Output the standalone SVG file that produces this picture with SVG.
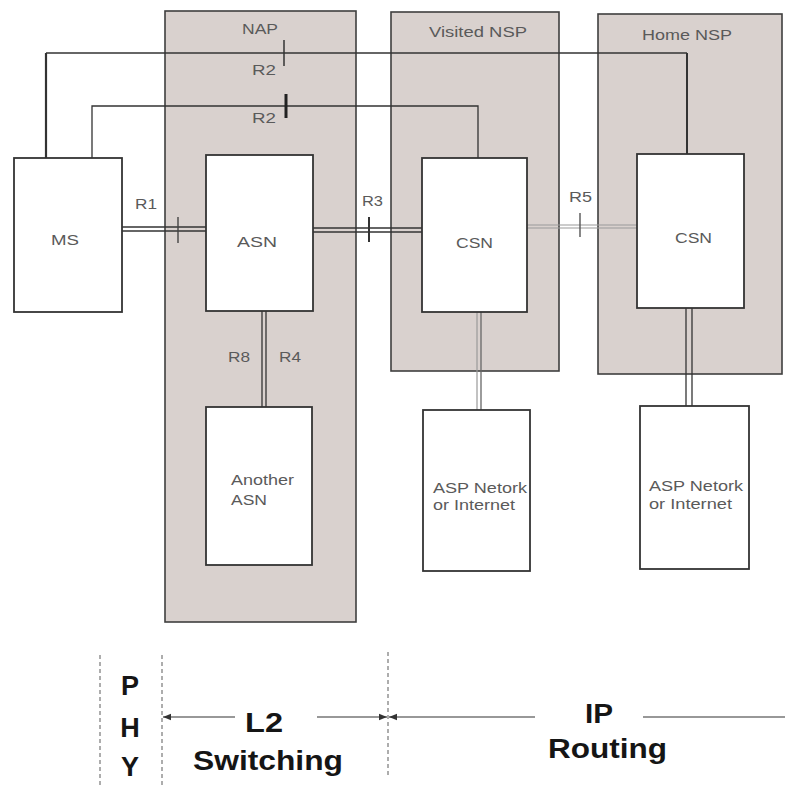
<svg xmlns="http://www.w3.org/2000/svg" width="785" height="788" viewBox="0 0 785 788">
<defs>
<style>
.cont{fill:#d9d1ce;stroke:#3f3f3f;stroke-width:1.6}
.node{fill:#ffffff;stroke:#333;stroke-width:1.8}
.lbl{font-family:"Liberation Sans",Arial,sans-serif;font-size:14px;fill:#5a5a5a}
.big{font-family:"Liberation Sans",Arial,sans-serif;font-size:27px;font-weight:bold;fill:#151515}
.ln{fill:none;stroke:#333;stroke-width:1.3}
.dbl{fill:none;stroke:#333;stroke-width:1.3}
.lt{fill:none;stroke:#9a9a9a;stroke-width:1.2}
.dash{stroke:#777;stroke-width:1.2;stroke-dasharray:4 3}
.arr{stroke:#333;stroke-width:1.2}
</style>
<marker id="ah" viewBox="0 0 10 10" refX="10" refY="5" markerWidth="8" markerHeight="8" orient="auto-start-reverse" markerUnits="userSpaceOnUse">
<path d="M0,1 L10,5 L0,9 Z" fill="#333"/>
</marker>
</defs>
<rect width="785" height="788" fill="#ffffff"/>

<g id="nap">
<rect class="cont" x="165" y="11" width="191" height="611"/>
<text class="lbl" x="242" y="34" textLength="36" lengthAdjust="spacingAndGlyphs">NAP</text>
</g>
<g id="visited-nsp">
<rect class="cont" x="391" y="12" width="168" height="359"/>
<text class="lbl" x="429" y="37" textLength="98" lengthAdjust="spacingAndGlyphs">Visited NSP</text>
</g>
<g id="home-nsp">
<rect class="cont" x="598" y="14" width="184" height="360"/>
<text class="lbl" x="642" y="40" textLength="90" lengthAdjust="spacingAndGlyphs">Home NSP</text>
</g>

<g id="connectors">
<!-- R2 top -->
<path class="ln" d="M46,53 H687"/>
<path fill="none" stroke="#333" stroke-width="2.2" d="M46,158 V53"/>
<path fill="none" stroke="#333" stroke-width="2" d="M687,53 V154"/>
<line x1="284" y1="40" x2="284" y2="66" stroke="#333" stroke-width="1.5"/>
<text class="lbl" x="252" y="75" textLength="24" lengthAdjust="spacingAndGlyphs">R2</text>
<!-- R2 second -->
<path class="ln" d="M92,158 V106 H478 V158"/>
<line x1="286" y1="94" x2="286" y2="118" stroke="#222" stroke-width="3"/>
<text class="lbl" x="252" y="123" textLength="24" lengthAdjust="spacingAndGlyphs">R2</text>
<!-- R1 -->
<line class="dbl" x1="122" y1="227" x2="206" y2="227"/>
<line class="dbl" x1="122" y1="231" x2="206" y2="231"/>
<line x1="178" y1="217" x2="178" y2="243" stroke="#444" stroke-width="1.4"/>
<text class="lbl" x="135" y="209" textLength="22" lengthAdjust="spacingAndGlyphs">R1</text>
<!-- R3 -->
<line class="dbl" x1="313" y1="228" x2="422" y2="228"/>
<line class="dbl" x1="313" y1="232" x2="422" y2="232"/>
<line x1="369" y1="217" x2="369" y2="242" stroke="#333" stroke-width="2"/>
<text class="lbl" x="362" y="206" textLength="21" lengthAdjust="spacingAndGlyphs">R3</text>
<!-- R5 -->
<line class="lt" x1="527" y1="225" x2="637" y2="225"/>
<line class="lt" x1="527" y1="228" x2="637" y2="228"/>
<line x1="580" y1="213" x2="580" y2="237" stroke="#555" stroke-width="1.4"/>
<text class="lbl" x="569" y="202" textLength="23" lengthAdjust="spacingAndGlyphs">R5</text>
<!-- R8/R4 -->
<line class="dbl" x1="262" y1="311" x2="262" y2="407"/>
<line class="dbl" x1="266" y1="311" x2="266" y2="407"/>
<text class="lbl" x="228" y="362" textLength="22" lengthAdjust="spacingAndGlyphs">R8</text>
<text class="lbl" x="279" y="362" textLength="22" lengthAdjust="spacingAndGlyphs">R4</text>
<!-- VCSN - ASP -->
<line x1="477" y1="312" x2="477" y2="410" stroke="#999" stroke-width="1.2"/>
<line x1="481" y1="312" x2="481" y2="410" stroke="#666" stroke-width="1.3"/>
<!-- HCSN - ASP -->
<line class="dbl" x1="686" y1="308" x2="686" y2="406"/>
<line class="dbl" x1="692" y1="308" x2="692" y2="406"/>
</g>

<g id="ms">
<rect class="node" x="14" y="158" width="108" height="154"/>
<text class="lbl" x="51" y="245" textLength="28" lengthAdjust="spacingAndGlyphs">MS</text>
</g>
<g id="asn">
<rect class="node" x="206" y="155" width="107" height="156" stroke-width="2.4"/>
<text class="lbl" x="237" y="247" textLength="40" lengthAdjust="spacingAndGlyphs">ASN</text>
</g>
<g id="another-asn">
<rect class="node" x="206" y="407" width="106" height="158"/>
<text class="lbl" x="231" y="485" textLength="63" lengthAdjust="spacingAndGlyphs">Another</text>
<text class="lbl" x="231" y="505" textLength="36" lengthAdjust="spacingAndGlyphs">ASN</text>
</g>
<g id="visited-csn">
<rect class="node" x="422" y="158" width="105" height="154"/>
<text class="lbl" x="456" y="248" textLength="37" lengthAdjust="spacingAndGlyphs">CSN</text>
</g>
<g id="home-csn">
<rect class="node" x="637" y="154" width="107" height="154"/>
<text class="lbl" x="675" y="243" textLength="37" lengthAdjust="spacingAndGlyphs">CSN</text>
</g>
<g id="asp-visited">
<rect class="node" x="423" y="410" width="107" height="161" stroke="#555" stroke-width="1.5"/>
<text class="lbl" x="433" y="493" textLength="94" lengthAdjust="spacingAndGlyphs">ASP Netork</text>
<text class="lbl" x="433" y="510" textLength="82" lengthAdjust="spacingAndGlyphs">or Internet</text>
</g>
<g id="asp-home">
<rect class="node" x="640" y="406" width="109" height="163" stroke-width="2.2"/>
<text class="lbl" x="649" y="491" textLength="94" lengthAdjust="spacingAndGlyphs">ASP Netork</text>
<text class="lbl" x="649" y="509" textLength="83" lengthAdjust="spacingAndGlyphs">or Internet</text>
</g>

<g id="layers">
<line class="dash" x1="100" y1="655" x2="100" y2="788"/>
<line class="dash" x1="162" y1="655" x2="162" y2="788"/>
<line class="dash" x1="388" y1="652" x2="388" y2="778" stroke-dasharray="4 2 1 2"/>
<line class="arr" x1="235" y1="717" x2="163" y2="717" marker-end="url(#ah)"/>
<line class="arr" x1="317" y1="717" x2="387" y2="717" marker-end="url(#ah)"/>
<line class="arr" x1="535" y1="717" x2="389" y2="717" marker-end="url(#ah)"/>
<line class="arr" x1="643" y1="717" x2="785" y2="717"/>
<text class="big" x="130" y="695" text-anchor="middle">P</text>
<text class="big" x="130" y="737" text-anchor="middle">H</text>
<text class="big" x="130" y="776" text-anchor="middle">Y</text>
<text class="big" x="245" y="732" textLength="38" lengthAdjust="spacingAndGlyphs">L2</text>
<text class="big" x="193" y="770" textLength="150" lengthAdjust="spacingAndGlyphs">Switching</text>
<text class="big" x="585" y="723" textLength="28" lengthAdjust="spacingAndGlyphs">IP</text>
<text class="big" x="548" y="758" textLength="119" lengthAdjust="spacingAndGlyphs">Routing</text>
</g>
</svg>
